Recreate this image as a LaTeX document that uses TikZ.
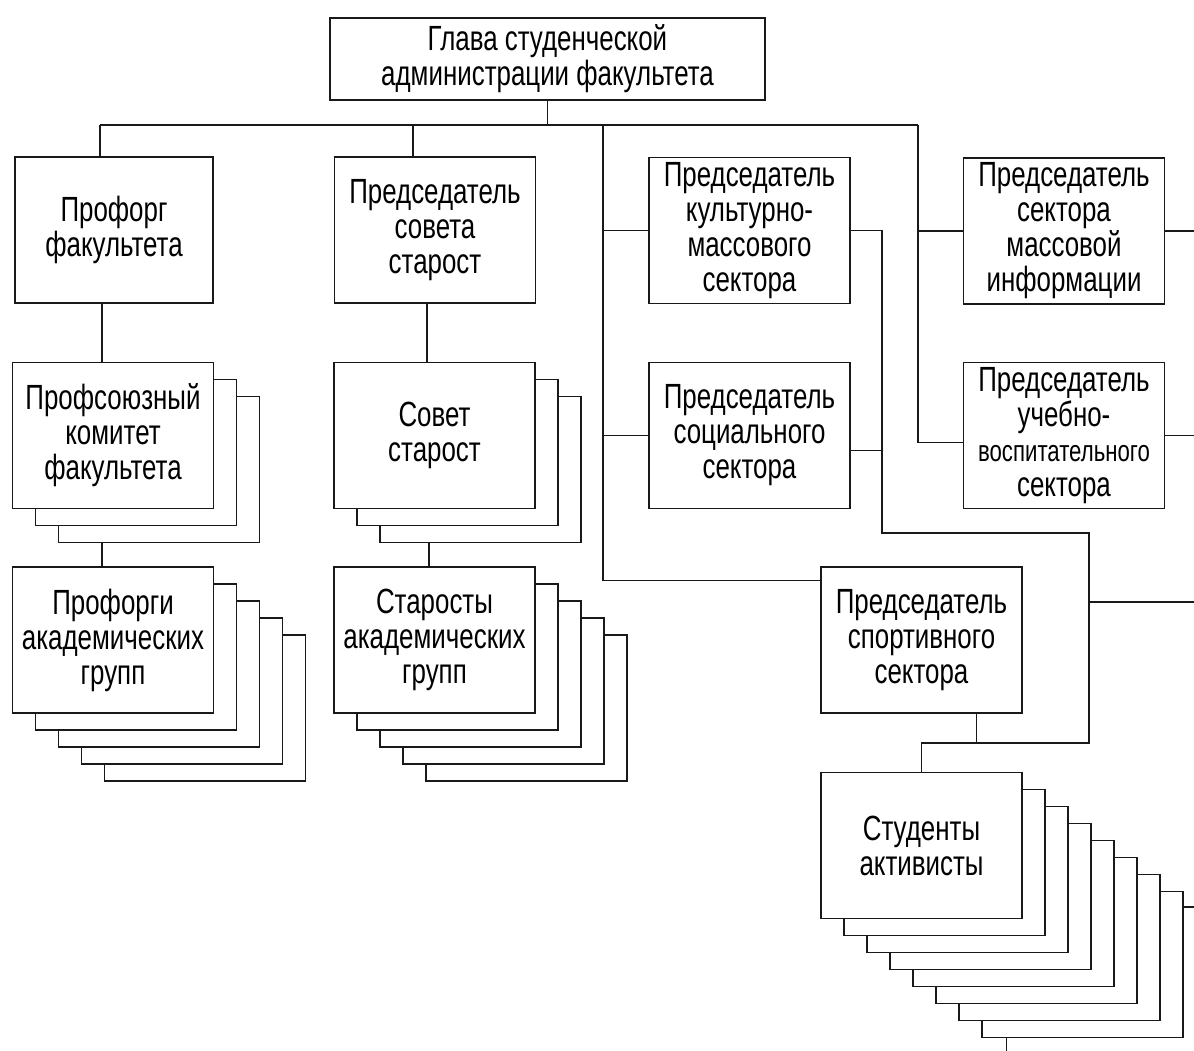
\documentclass[tikz,border=0pt]{standalone}
\usepackage{fontspec}
\setmainfont[FakeStretch=0.74]{Liberation Sans}
\usepackage{tikz}
\usepackage{xcolor}
\definecolor{ColLine}{RGB}{25,25,25}
\tikzstyle{Unit}=[rectangle,draw=ColLine,fill=white,line width=1.5pt,minimum width=201pt,
minimum height=146pt,inner sep=0pt,align=center,font=\fontsize{35}{35}\selectfont]
\tikzstyle{Link}=[ColLine,line width=1.5pt]

\begin{document}
\begin{tikzpicture}[x=1pt,y=-1pt]
    \useasboundingbox(0,0)rectangle(1194,1051);
    % head
    \node[Unit,minimum width=435pt,minimum height=82pt](Glava)at(547.5,59){Глава студенческой\\администрации факультета};
    % first column
    \node[Unit,minimum width=198pt](Proforg)at(114,230){Профорг\\факультета};
    \foreach \k in {2,1}
        \node[Unit,xshift=\k*23pt,yshift=-\k*17pt](ProfCom\k)at(113,435.5){};
    \node[Unit](ProfCom)at(113,435.5){Профсоюзный\\комитет\\факультета};
    \foreach \k in {4,3,...,1}
        \node[Unit,xshift=\k*23pt,yshift=-\k*17pt](ProfGroups\k)at(113,640){};
    \node[Unit](ProfGroups)at(113,640){Профорги\\академических\\групп};
    % second column
    \node[Unit](PredSovet)at(435,230){Председатель\\совета\\старост};
    \foreach \k in {2,1}
        \node[Unit,xshift=\k*23pt,yshift=-\k*17pt](Sovet\k)at(434.5,435.5){};
    \node[Unit](Sovet)at(434.5,435.5){Совет\\старост};
    \foreach \k in {4,3,...,1}
        \node[Unit,xshift=\k*23pt,yshift=-\k*17pt](Starosty\k)at(434.5,640){};
    \node[Unit](Starosty)at(434.5,640){Старосты\\академических\\групп};
    % sectors
    \node[Unit](Kult)at(749.5,230.5){Председатель\\культурно-\\массового\\сектора};
    \node[Unit](Social)at(749.5,435.5){Председатель\\социального\\сектора};
    \node[Unit](Sport)at(921.5,640){Председатель\\спортивного\\сектора};
    \node[Unit](MassInfo)at(1064,231){Председатель\\сектора\\массовой\\информации};
    \node[Unit](Uchebno)at(1064,435.5){Председатель\\учебно-\\{\fontsize{30}{35}\selectfont воспитательного}\\сектора};
    \foreach \k in {7,6,...,1}
        \node[Unit,xshift=\k*23pt,yshift=-\k*17pt](Activists\k)at(921.5,845.5){};
    \node[Unit](Activists)at(921.5,845.5){Студенты\\активисты};
    % connectors
    \coordinate(BusL)at(100,125);
    \coordinate(BusB)at(413,125);
    \coordinate(TrunkA)at(603,125);
    \coordinate(BusR)at(918,125);
    \coordinate(TrunkB)at(882,533);
    \coordinate(TrunkC)at(1089,743);
    \coordinate(EdgeR)at(1194,0);
    \coordinate(EdgeB)at(0,1051);
    \coordinate(OutSport)at(1194,602);
    \draw[Link](Glava.south)--(Glava.south|-BusL);
    \draw[Link](BusL)--(BusR);
    \draw[Link](BusL)--(BusL|-Proforg.north);
    \draw[Link]([xshift=-12pt]Proforg.south)--([xshift=-11pt]ProfCom.north);
    \draw[Link]([xshift=-11pt]ProfCom.north|-ProfCom2.south)--([xshift=-11pt]ProfGroups.north);
    \draw[Link](BusB)--(BusB|-PredSovet.north);
    \draw[Link]([xshift=-8pt]PredSovet.south)--([xshift=-7.5pt]Sovet.north);
    \draw[Link]([xshift=-5.5pt]Sovet.north|-Sovet2.south)--([xshift=-5.5pt]Starosty.north);
    \draw[Link](TrunkA)|-([yshift=-14pt]Sport.north west);
    \draw[Link](TrunkA|-Kult.west)--(Kult.west);
    \draw[Link](TrunkA|-Social.west)--(Social.west);
    \draw[Link](BusR)|-([yshift=-7pt]Uchebno.west);
    \draw[Link](BusR|-MassInfo.west)--(MassInfo.west);
    \draw[Link](MassInfo.east)--(MassInfo.east-|EdgeR);
    \draw[Link](Uchebno.east)--(Uchebno.east-|EdgeR);
    \draw[Link](Kult.east)-|(TrunkB)-|(TrunkC)-|(Activists.north);
    \draw[Link]([yshift=-15pt]Social.east)--([yshift=-15pt]Social.east-|TrunkB);
    \draw[Link]([xshift=55pt]Sport.south)--([xshift=55pt]Sport.south|-TrunkC);
    \draw[Link](OutSport-|TrunkC)--(OutSport);
    \draw[Link]([yshift=-16pt]Activists7.north east)--([yshift=-16pt]Activists7.north east-|EdgeR);
    \draw[Link]([xshift=25pt]Activists7.south west)--([xshift=25pt]Activists7.south west|-EdgeB);
\end{tikzpicture}
\end{document}
